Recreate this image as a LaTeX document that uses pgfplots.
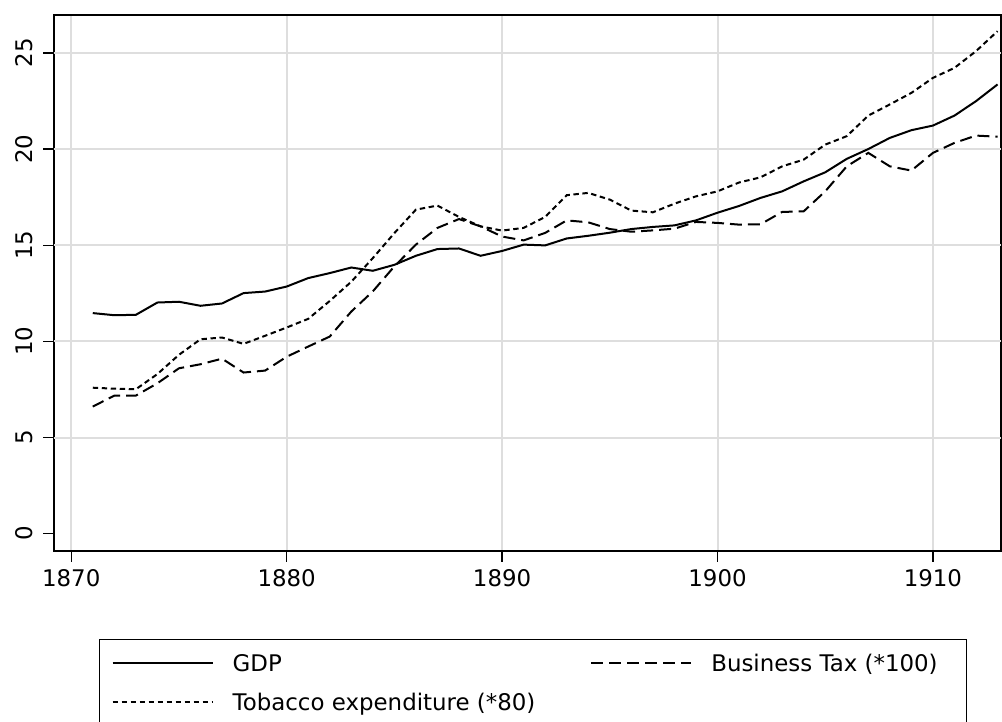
\documentclass[border=0pt]{standalone}
\usepackage{fontspec}
\setmainfont{DejaVu Sans}
\usepackage{pgfplots}
\usepackage{pgfplotstable}
\pgfplotsset{compat=1.18}
\definecolor{gridgray}{RGB}{222,222,222}

\pgfplotstableread{
year gdp tobacco bustax
1871 11.47 7.59 6.61
1872 11.36 7.54 7.18
1873 11.38 7.51 7.18
1874 12.02 8.30 7.82
1875 12.06 9.30 8.60
1876 11.85 10.11 8.81
1877 11.97 10.20 9.10
1878 12.51 9.87 8.38
1879 12.59 10.29 8.48
1880 12.85 10.72 9.20
1881 13.29 11.17 9.73
1882 13.55 12.10 10.25
1883 13.84 13.10 11.55
1884 13.67 14.33 12.60
1885 13.98 15.63 13.90
1886 14.45 16.85 15.03
1887 14.80 17.06 15.90
1888 14.83 16.47 16.36
1889 14.45 15.98 15.98
1890 14.70 15.76 15.45
1891 15.03 15.90 15.25
1892 14.99 16.47 15.64
1893 15.35 17.60 16.29
1894 15.49 17.72 16.19
1895 15.65 17.37 15.84
1896 15.84 16.80 15.70
1897 15.95 16.71 15.77
1898 16.03 17.16 15.86
1899 16.29 17.54 16.21
1900 16.69 17.80 16.16
1901 17.04 18.26 16.07
1902 17.46 18.53 16.09
1903 17.80 19.10 16.73
1904 18.32 19.45 16.76
1905 18.79 20.23 17.80
1906 19.49 20.67 19.10
1907 20.00 21.74 19.80
1908 20.58 22.32 19.10
1909 20.98 22.92 18.88
1910 21.22 23.70 19.80
1911 21.74 24.22 20.32
1912 22.49 25.09 20.70
1913 23.36 26.13 20.64
}\datatable

\begin{document}
\begin{tikzpicture}[font=\fontsize{11.45pt}{13.7pt}\selectfont]
\begin{axis}[
  scale only axis, width=473.5pt, height=268pt,
  xmin=1869.2, xmax=1913.16, ymin=-0.9, ymax=26.97,
  axis line style={black, line width=1pt},
  xtick={1870,1880,...,1910},
  ytick={0,5,...,25},
  extra y ticks={5,10,...,25},
  extra y tick labels={},
  extra y tick style={ymajorgrids=true, major tick length=0pt},
  xmajorgrids, ymajorgrids=false,
  major grid style={gridgray, line width=1pt},
  tick align=outside, xtick pos=left, ytick pos=left,
  major tick length=5.5pt,
  tick style={black, line width=0.7pt},
  /pgf/number format/assume math mode=true,
  /pgf/number format/1000 sep={},
  tick label style={font=\fontsize{11.45pt}{13.7pt}\selectfont},
  xticklabel style={anchor=north, inner sep=0pt, yshift=-3.5pt},
  yticklabel style={xshift=-5pt, rotate=90, anchor=south, inner sep=0pt},
  legend columns=2,
  legend cell align=left,
  legend image code/.code={\draw[#1] (0pt,0pt) -- (50pt,0pt);},
  legend style={at={(0.0475,-0.1642)}, anchor=north west, draw=black, line width=0.7pt,
    inner xsep=6pt, inner ysep=7.3pt, row sep=11.15pt,
    nodes={inner sep=0pt, text height=8.35pt, text depth=0pt, font=\fontsize{11.45pt}{13.7pt}\selectfont},
    /tikz/every odd column/.append style={column sep=9.5pt},
    /tikz/every even column/.append style={column sep=27.5pt}},
]
\addplot[black, line width=1pt] table[x=year, y=gdp] {\datatable};
\addlegendentry{GDP}
\addplot[black, line width=1pt, dash pattern=on 6pt off 3pt] table[x=year, y=bustax] {\datatable};
\addlegendentry{Business Tax (*100)\rule{8.5pt}{0pt}}
\addplot[black, line width=1pt, dash pattern=on 2.7pt off 1.8pt] table[x=year, y=tobacco] {\datatable};
\addlegendentry{Tobacco expenditure (*80)}
\end{axis}
\pgfresetboundingbox
\path[use as bounding box] (-27pt,-85.5pt) rectangle (474pt,275.5pt);
\end{tikzpicture}
\end{document}
